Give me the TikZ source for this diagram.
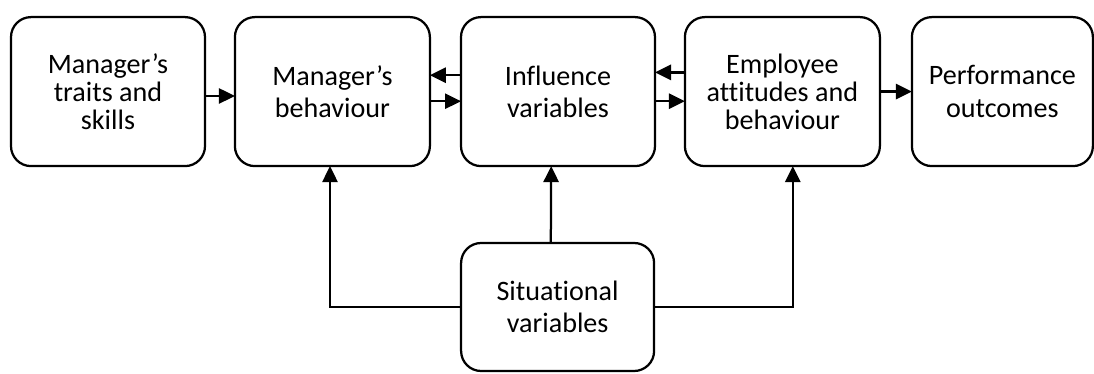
\documentclass[tikz,border=0pt]{standalone}
\usepackage{fontspec}
\setmainfont{Carlito}[Ligatures=NoCommon]
\usetikzlibrary{arrows.meta}

\begin{document}
\begin{tikzpicture}[block/.style={draw, line width=1.6pt, rounded corners=0.5cm, align=center, minimum width=4.85cm, minimum height=3.725cm, outer sep=0pt, font=\fontsize{20}{23}\selectfont},
    link/.style={line width=1.6pt, -{Triangle[length=0.4cm, width=0.38cm]}}]
    \useasboundingbox (0,0) rectangle (27.35,9.35);

    % Top row
    \node[block, font=\fontsize{20}{19.8}\selectfont] (traits) at (2.7, 7.06) {Manager’s\\traits and\\skills};
    \node[block, minimum width=4.875cm] (behav) at (8.31, 7.06) {Manager’s\\behaviour};
    \node[block] (influ) at (13.95, 7.06) {Influence\\variables};
    \node[block, minimum width=4.875cm, font=\fontsize{20}{19.8}\selectfont] (employ) at (19.56, 7.06) {Employee\\attitudes and\\behaviour};
    \node[block, minimum width=4.525cm] (perf) at (25.06, 7.06) {Performance\\outcomes};

    % Situational box
    \node[block, minimum width=4.825cm, minimum height=3.2cm] (situ) at (13.94, 1.675) {Situational\\variables};

    % Horizontal links
    \draw[link] ([yshift=-0.11cm]traits.east) -- ([yshift=-0.11cm]behav.west);
    \draw[link] ([yshift=0.41cm]influ.west) -- ([yshift=0.41cm]behav.east);
    \draw[link] ([yshift=-0.24cm]behav.east) -- ([yshift=-0.24cm]influ.west);
    \draw[link] ([yshift=0.48cm]employ.west) -- ([yshift=0.48cm]influ.east);
    \draw[link] ([yshift=-0.24cm]influ.east) -- ([yshift=-0.24cm]employ.west);
    \draw[link] (employ.east) -- (perf.west);

    % Links from situational variables
    \draw[link] (situ.west) -| ([xshift=-0.06cm]behav.south);
    \draw[link] ([xshift=-0.17cm]situ.north) -- ([xshift=-0.17cm]influ.south);
    \draw[link] (situ.east) -| ([xshift=0.26cm]employ.south);

\end{tikzpicture}
\end{document}
